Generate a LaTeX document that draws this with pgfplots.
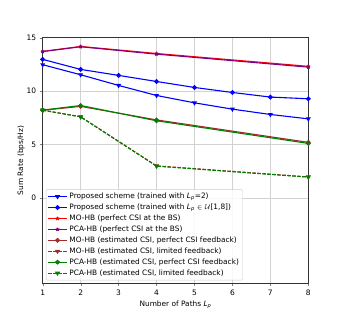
\documentclass[border=0pt]{standalone}
\usepackage{fontspec}
\setmainfont{DejaVu Sans}
\usepackage{pgfplots}
\pgfplotsset{compat=1.18}
\definecolor{mplbrown}{HTML}{A52A2A}
\definecolor{mplgreen}{HTML}{008000}
\definecolor{mplpurple}{HTML}{800080}
\newcommand{\Lp}{\textit{L}\textsubscript{\textit{p}}}
\begin{document}
\begin{tikzpicture}
\begin{axis}[
  scale only axis,
  width=265.6pt, height=245.6pt,
  xmin=1, xmax=8, ymin=-8, ymax=15,
  xtick={1,2,3,4,5,6,7,8},
  ytick={0,5,10,15},
  grid=major,
  grid style={gray!35, line width=0.6pt},
  tick align=outside, tick pos=left,
  major tick length=3pt,
  axis line style={black!80},
  /pgf/number format/assume math mode=true,
  ticklabel style={font=\fontsize{7.5}{8}\selectfont},
  xlabel={Number of Paths \Lp},
  ylabel={Sum Rate (bps/Hz)},
  label style={font=\fontsize{7.4}{8}\selectfont},
  xlabel style={yshift=1pt},
  ylabel style={yshift=-5pt},
  legend style={at={(0.012,0.012)}, anchor=south west, font=\fontsize{7.4}{8}\selectfont,
     draw=black!20, fill=white, fill opacity=0.85, text opacity=1, rounded corners=1pt,
     row sep=-0.2pt, inner sep=1.5pt},
  legend cell align=left,
  legend image post style={xscale=1.1},
  every axis plot/.append style={line width=1.1pt},
]
\addplot[blue, mark=triangle*, mark options={rotate=180, scale=0.9}] coordinates {
 (1,12.47) (2,11.53) (3,10.53) (4,9.59) (5,8.9) (6,8.31) (7,7.81) (8,7.4)};
\addlegendentry{Proposed scheme (trained with \Lp=2)}
\addplot[blue, mark=*, mark size=1.8pt] coordinates {
 (1,12.97) (2,12.03) (3,11.47) (4,10.9) (5,10.34) (6,9.87) (7,9.44) (8,9.28)};
\addlegendentry{Proposed scheme (trained with \Lp{} $\in\mathcal{U}$[1,8])}
\addplot[red, mark=star, mark size=1.8pt] coordinates {
 (1,13.72) (2,14.18) (4,13.52) (8,12.32)};
\addlegendentry{MO-HB (perfect CSI at the BS)}
\addplot[mplpurple, mark=star, mark size=1.8pt] coordinates {
 (1,13.70) (2,14.15) (4,13.46) (8,12.24)};
\addlegendentry{PCA-HB (perfect CSI at the BS)}
\addplot[mplbrown, mark=*, mark size=1.8pt] coordinates {
 (1,8.2) (2,8.57) (4,7.3) (8,5.2)};
\addlegendentry{MO-HB (estimated CSI, perfect CSI feedback)}
\addplot[mplbrown, dash pattern=on 3.5pt off 1.5pt, mark=triangle*, mark options={rotate=180, scale=0.9, solid}] coordinates {
 (1,8.2) (2,7.6) (4,3.0) (8,1.96)};
\addlegendentry{MO-HB (estimated CSI, limited feedback)}
\addplot[mplgreen, mark=*, mark size=1.8pt] coordinates {
 (1,8.22) (2,8.65) (4,7.22) (8,5.1)};
\addlegendentry{PCA-HB (estimated CSI, perfect CSI feedback)}
\addplot[mplgreen, dash pattern=on 3.5pt off 1.5pt, mark=triangle*, mark options={rotate=180, scale=0.9, solid}] coordinates {
 (1,8.22) (2,7.58) (4,2.97) (8,1.94)};
\addlegendentry{PCA-HB (estimated CSI, limited feedback)}
\end{axis}
\path[use as bounding box] ([xshift=-42.7pt,yshift=-35.7pt]current axis.south west) rectangle ([xshift=34.7pt,yshift=37.7pt]current axis.north east);
\end{tikzpicture}
\end{document}
